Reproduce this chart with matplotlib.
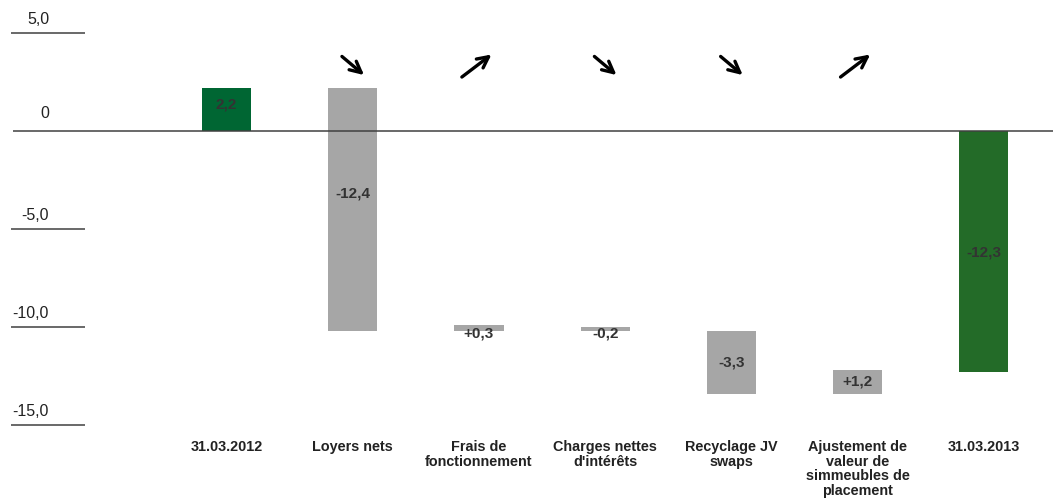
import matplotlib
matplotlib.use("Agg")
import matplotlib.pyplot as plt

categories = ["31.03.2012", "Loyers nets", "Frais de\nfonctionnement",
              "Charges nettes\nd'intérêts", "Recyclage JV\nswaps",
              "Ajustement de\nvaleur de\nsimmeubles de\nplacement", "31.03.2013"]
bar_bottom = [0.0, -10.2, -10.2, -10.2, -13.4, -13.4, -12.3]
bar_top = [2.2, 2.2, -9.9, -10.0, -10.2, -12.2, 0.0]
value_labels = ["2,2", "-12,4", "+0,3", "-0,2", "-3,3", "+1,2", "-12,3"]
label_y = [1.35, -3.2, -10.32, -10.32, -11.8, -12.8, -6.2]
arrow_dir = [None, "down", "up", "down", "down", "up", None]
bar_colors = ["#006633", "#A6A6A6", "#A6A6A6", "#A6A6A6", "#A6A6A6", "#A6A6A6", "#236B28"]
yticks = [5, 0, -5, -10, -15]
ytick_labels = ["5,0", "0", "-5,0", "-10,0", "-15,0"]

plt.rcParams['font.family'] = ['Liberation Sans', 'DejaVu Sans']

fig = plt.figure(figsize=(10.53, 5.0), dpi=100)
ax = fig.add_axes([0, 0, 1, 1])
ax.set_xlim(-1.794, 6.548)
ax.set_ylim(-18.83, 6.68)
ax.axis('off')

x = list(range(len(categories)))
heights = [t - b for t, b in zip(bar_top, bar_bottom)]
ax.bar(x, heights, bottom=bar_bottom, width=0.39, color=bar_colors, zorder=2)

# zero line and short grid ticks
ax.hlines(0, -1.69, 6.548, color="#404040", lw=1.1, zorder=3)
for t in yticks:
    if t != 0:
        ax.hlines(t, -1.707, -1.119, color="#404040", lw=1.1)
for t, lab in zip(yticks, ytick_labels):
    off = 0.65 if t == 0 else 0.45
    ax.text(-1.405, t + off, lab, ha='right', va='baseline', fontsize=11.5, color="#222222")

for xi, lab, ly in zip(x, value_labels, label_y):
    ax.text(xi, ly, lab, ha='center', va='center', fontsize=11,
            fontweight='bold', color="#333333", zorder=4)

for xi, cat in zip(x, categories):
    ax.text(xi, -15.75, cat, ha='center', va='top', fontsize=10.4,
            fontweight='bold', color="#222222", linespacing=1.08)

for xi, d in zip(x, arrow_dir):
    if d == "down":
        ax.annotate("", xy=(xi + 0.09, 2.85), xytext=(xi - 0.085, 3.8),
                    arrowprops=dict(arrowstyle="->", lw=2.4, color="black",
                                    mutation_scale=20, shrinkA=0, shrinkB=0))
    elif d == "up":
        ax.annotate("", xy=(xi + 0.1, 3.9), xytext=(xi - 0.135, 2.75),
                    arrowprops=dict(arrowstyle="->", lw=2.4, color="black",
                                    mutation_scale=20, shrinkA=0, shrinkB=0))

fig.savefig("out.png", dpi=100)
